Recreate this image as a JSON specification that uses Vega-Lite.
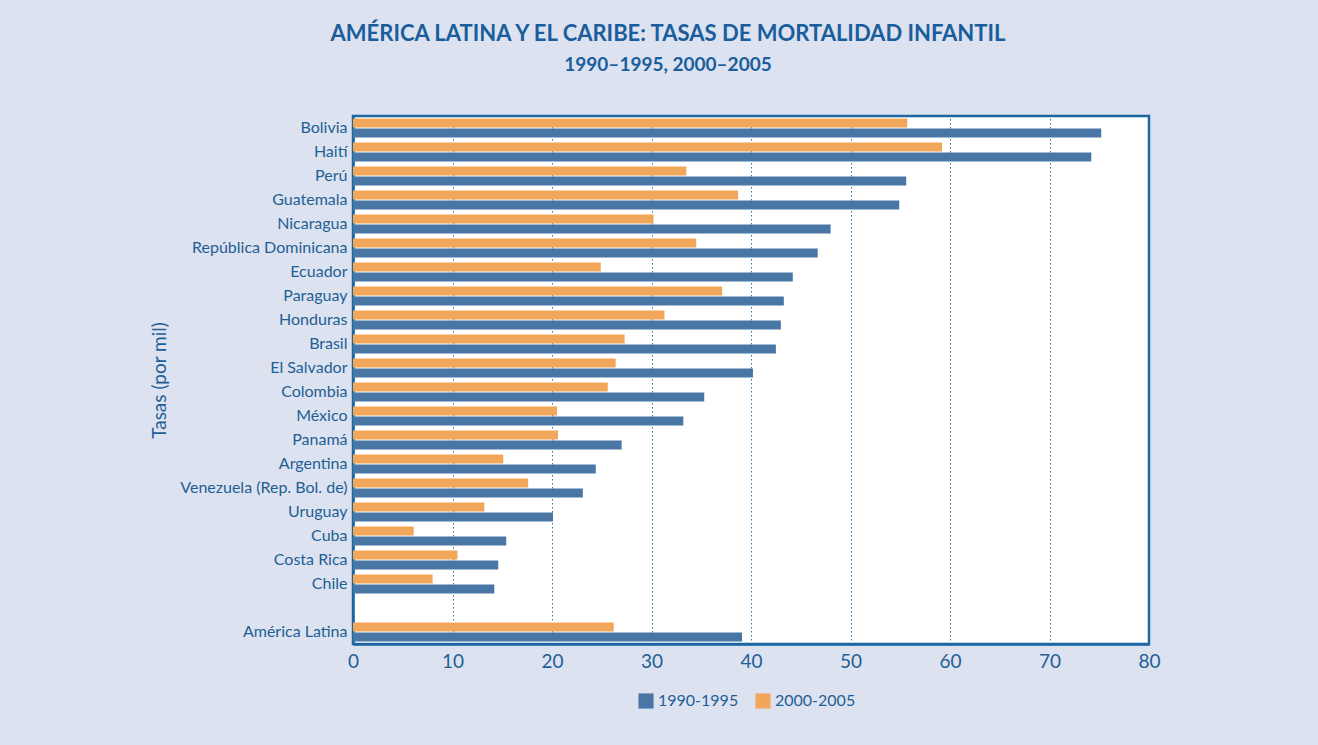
{
  "$schema": "https://vega.github.io/schema/vega-lite/v6.json",
  "width": 796,
  "height": 528,
  "autosize": {"type": "none"},
  "padding": {"left": 353, "top": 116, "right": 169, "bottom": 101},
  "background": "#dce2ef",
  "title": {
    "text": "AMÉRICA LATINA Y EL CARIBE: TASAS DE MORTALIDAD INFANTIL",
    "subtitle": "1990–1995, 2000–2005",
    "anchor": "middle",
    "frame": "group",
    "dx": -83,
    "offset": 40,
    "font": "Lato",
    "fontSize": 22,
    "fontWeight": "bold",
    "color": "#1a5d9c",
    "subtitleFont": "Lato",
    "subtitleFontSize": 19,
    "subtitleFontWeight": "bold",
    "subtitleColor": "#1a5d9c",
    "subtitlePadding": 10
  },
  "config": {
    "view": {"stroke": "#1b66a3", "strokeWidth": 2.5, "fill": "white"},
    "axis": {"labelFont": "Lato", "titleFont": "Lato", "labelColor": "#1f5f96", "titleColor": "#1f5f96"}
  },
  "data": {
    "values": [
      {"pais": "Bolivia", "periodo": "1990-1995", "tasa": 75.2},
      {"pais": "Bolivia", "periodo": "2000-2005", "tasa": 55.7},
      {"pais": "Haití", "periodo": "1990-1995", "tasa": 74.2},
      {"pais": "Haití", "periodo": "2000-2005", "tasa": 59.2},
      {"pais": "Perú", "periodo": "1990-1995", "tasa": 55.6},
      {"pais": "Perú", "periodo": "2000-2005", "tasa": 33.5},
      {"pais": "Guatemala", "periodo": "1990-1995", "tasa": 54.9},
      {"pais": "Guatemala", "periodo": "2000-2005", "tasa": 38.7},
      {"pais": "Nicaragua", "periodo": "1990-1995", "tasa": 48.0},
      {"pais": "Nicaragua", "periodo": "2000-2005", "tasa": 30.2},
      {"pais": "República Dominicana", "periodo": "1990-1995", "tasa": 46.7},
      {"pais": "República Dominicana", "periodo": "2000-2005", "tasa": 34.5},
      {"pais": "Ecuador", "periodo": "1990-1995", "tasa": 44.2},
      {"pais": "Ecuador", "periodo": "2000-2005", "tasa": 24.9},
      {"pais": "Paraguay", "periodo": "1990-1995", "tasa": 43.3},
      {"pais": "Paraguay", "periodo": "2000-2005", "tasa": 37.1},
      {"pais": "Honduras", "periodo": "1990-1995", "tasa": 43.0},
      {"pais": "Honduras", "periodo": "2000-2005", "tasa": 31.3},
      {"pais": "Brasil", "periodo": "1990-1995", "tasa": 42.5},
      {"pais": "Brasil", "periodo": "2000-2005", "tasa": 27.3},
      {"pais": "El Salvador", "periodo": "1990-1995", "tasa": 40.2},
      {"pais": "El Salvador", "periodo": "2000-2005", "tasa": 26.4},
      {"pais": "Colombia", "periodo": "1990-1995", "tasa": 35.3},
      {"pais": "Colombia", "periodo": "2000-2005", "tasa": 25.6},
      {"pais": "México", "periodo": "1990-1995", "tasa": 33.2},
      {"pais": "México", "periodo": "2000-2005", "tasa": 20.5},
      {"pais": "Panamá", "periodo": "1990-1995", "tasa": 27.0},
      {"pais": "Panamá", "periodo": "2000-2005", "tasa": 20.6},
      {"pais": "Argentina", "periodo": "1990-1995", "tasa": 24.4},
      {"pais": "Argentina", "periodo": "2000-2005", "tasa": 15.1},
      {"pais": "Venezuela (Rep. Bol. de)", "periodo": "1990-1995", "tasa": 23.1},
      {"pais": "Venezuela (Rep. Bol. de)", "periodo": "2000-2005", "tasa": 17.6},
      {"pais": "Uruguay", "periodo": "1990-1995", "tasa": 20.1},
      {"pais": "Uruguay", "periodo": "2000-2005", "tasa": 13.2},
      {"pais": "Cuba", "periodo": "1990-1995", "tasa": 15.4},
      {"pais": "Cuba", "periodo": "2000-2005", "tasa": 6.1},
      {"pais": "Costa Rica", "periodo": "1990-1995", "tasa": 14.6},
      {"pais": "Costa Rica", "periodo": "2000-2005", "tasa": 10.5},
      {"pais": "Chile", "periodo": "1990-1995", "tasa": 14.2},
      {"pais": "Chile", "periodo": "2000-2005", "tasa": 8.0},
      {"pais": "América Latina", "periodo": "1990-1995", "tasa": 39.1},
      {"pais": "América Latina", "periodo": "2000-2005", "tasa": 26.2}
    ]
  },
  "mark": {"type": "bar"},
  "encoding": {
    "y": {
      "field": "pais",
      "type": "nominal",
      "scale": {
        "domain": ["Bolivia", "Haití", "Perú", "Guatemala", "Nicaragua", "República Dominicana", "Ecuador", "Paraguay", "Honduras", "Brasil", "El Salvador", "Colombia", "México", "Panamá", "Argentina", "Venezuela (Rep. Bol. de)", "Uruguay", "Cuba", "Costa Rica", "Chile", " ", "América Latina"],
        "paddingInner": 0.2,
        "paddingOuter": 0.1
      },
      "axis": {
        "title": "Tasas (por mil)",
        "titleFontSize": 19,
        "titleFontWeight": "normal",
        "titlePadding": 10,
        "labelFontSize": 16,
        "labelPadding": 6,
        "ticks": false,
        "domainColor": "#1b66a3",
        "domainWidth": 2.5
      }
    },
    "yOffset": {
      "field": "periodo",
      "type": "nominal",
      "scale": {"domain": ["2000-2005", "1990-1995"], "paddingInner": 0.1}
    },
    "x": {
      "field": "tasa",
      "type": "quantitative",
      "scale": {"domain": [0, 80], "nice": false},
      "axis": {
        "title": null,
        "values": [0, 10, 20, 30, 40, 50, 60, 70, 80],
        "labelFontSize": 19,
        "labelPadding": 8,
        "labelFlush": false,
        "ticks": false,
        "domainColor": "#1b66a3",
        "domainWidth": 2.5,
        "gridColor": "#2a78b4",
        "gridDash": [1.5, 2.5],
        "gridWidth": 1,
        "gridOpacity": 1
      }
    },
    "color": {
      "field": "periodo",
      "type": "nominal",
      "scale": {"domain": ["1990-1995", "2000-2005"], "range": ["#4a76a6", "#f2a65a"]},
      "legend": {
        "title": null,
        "orient": "none",
        "direction": "horizontal",
        "legendX": 285,
        "legendY": 577,
        "symbolType": "square",
        "symbolSize": 230,
        "symbolStrokeWidth": 0,
        "labelFont": "Lato",
        "labelFontSize": 16,
        "labelColor": "#1f5f96",
        "columnPadding": 16
      }
    }
  }
}
